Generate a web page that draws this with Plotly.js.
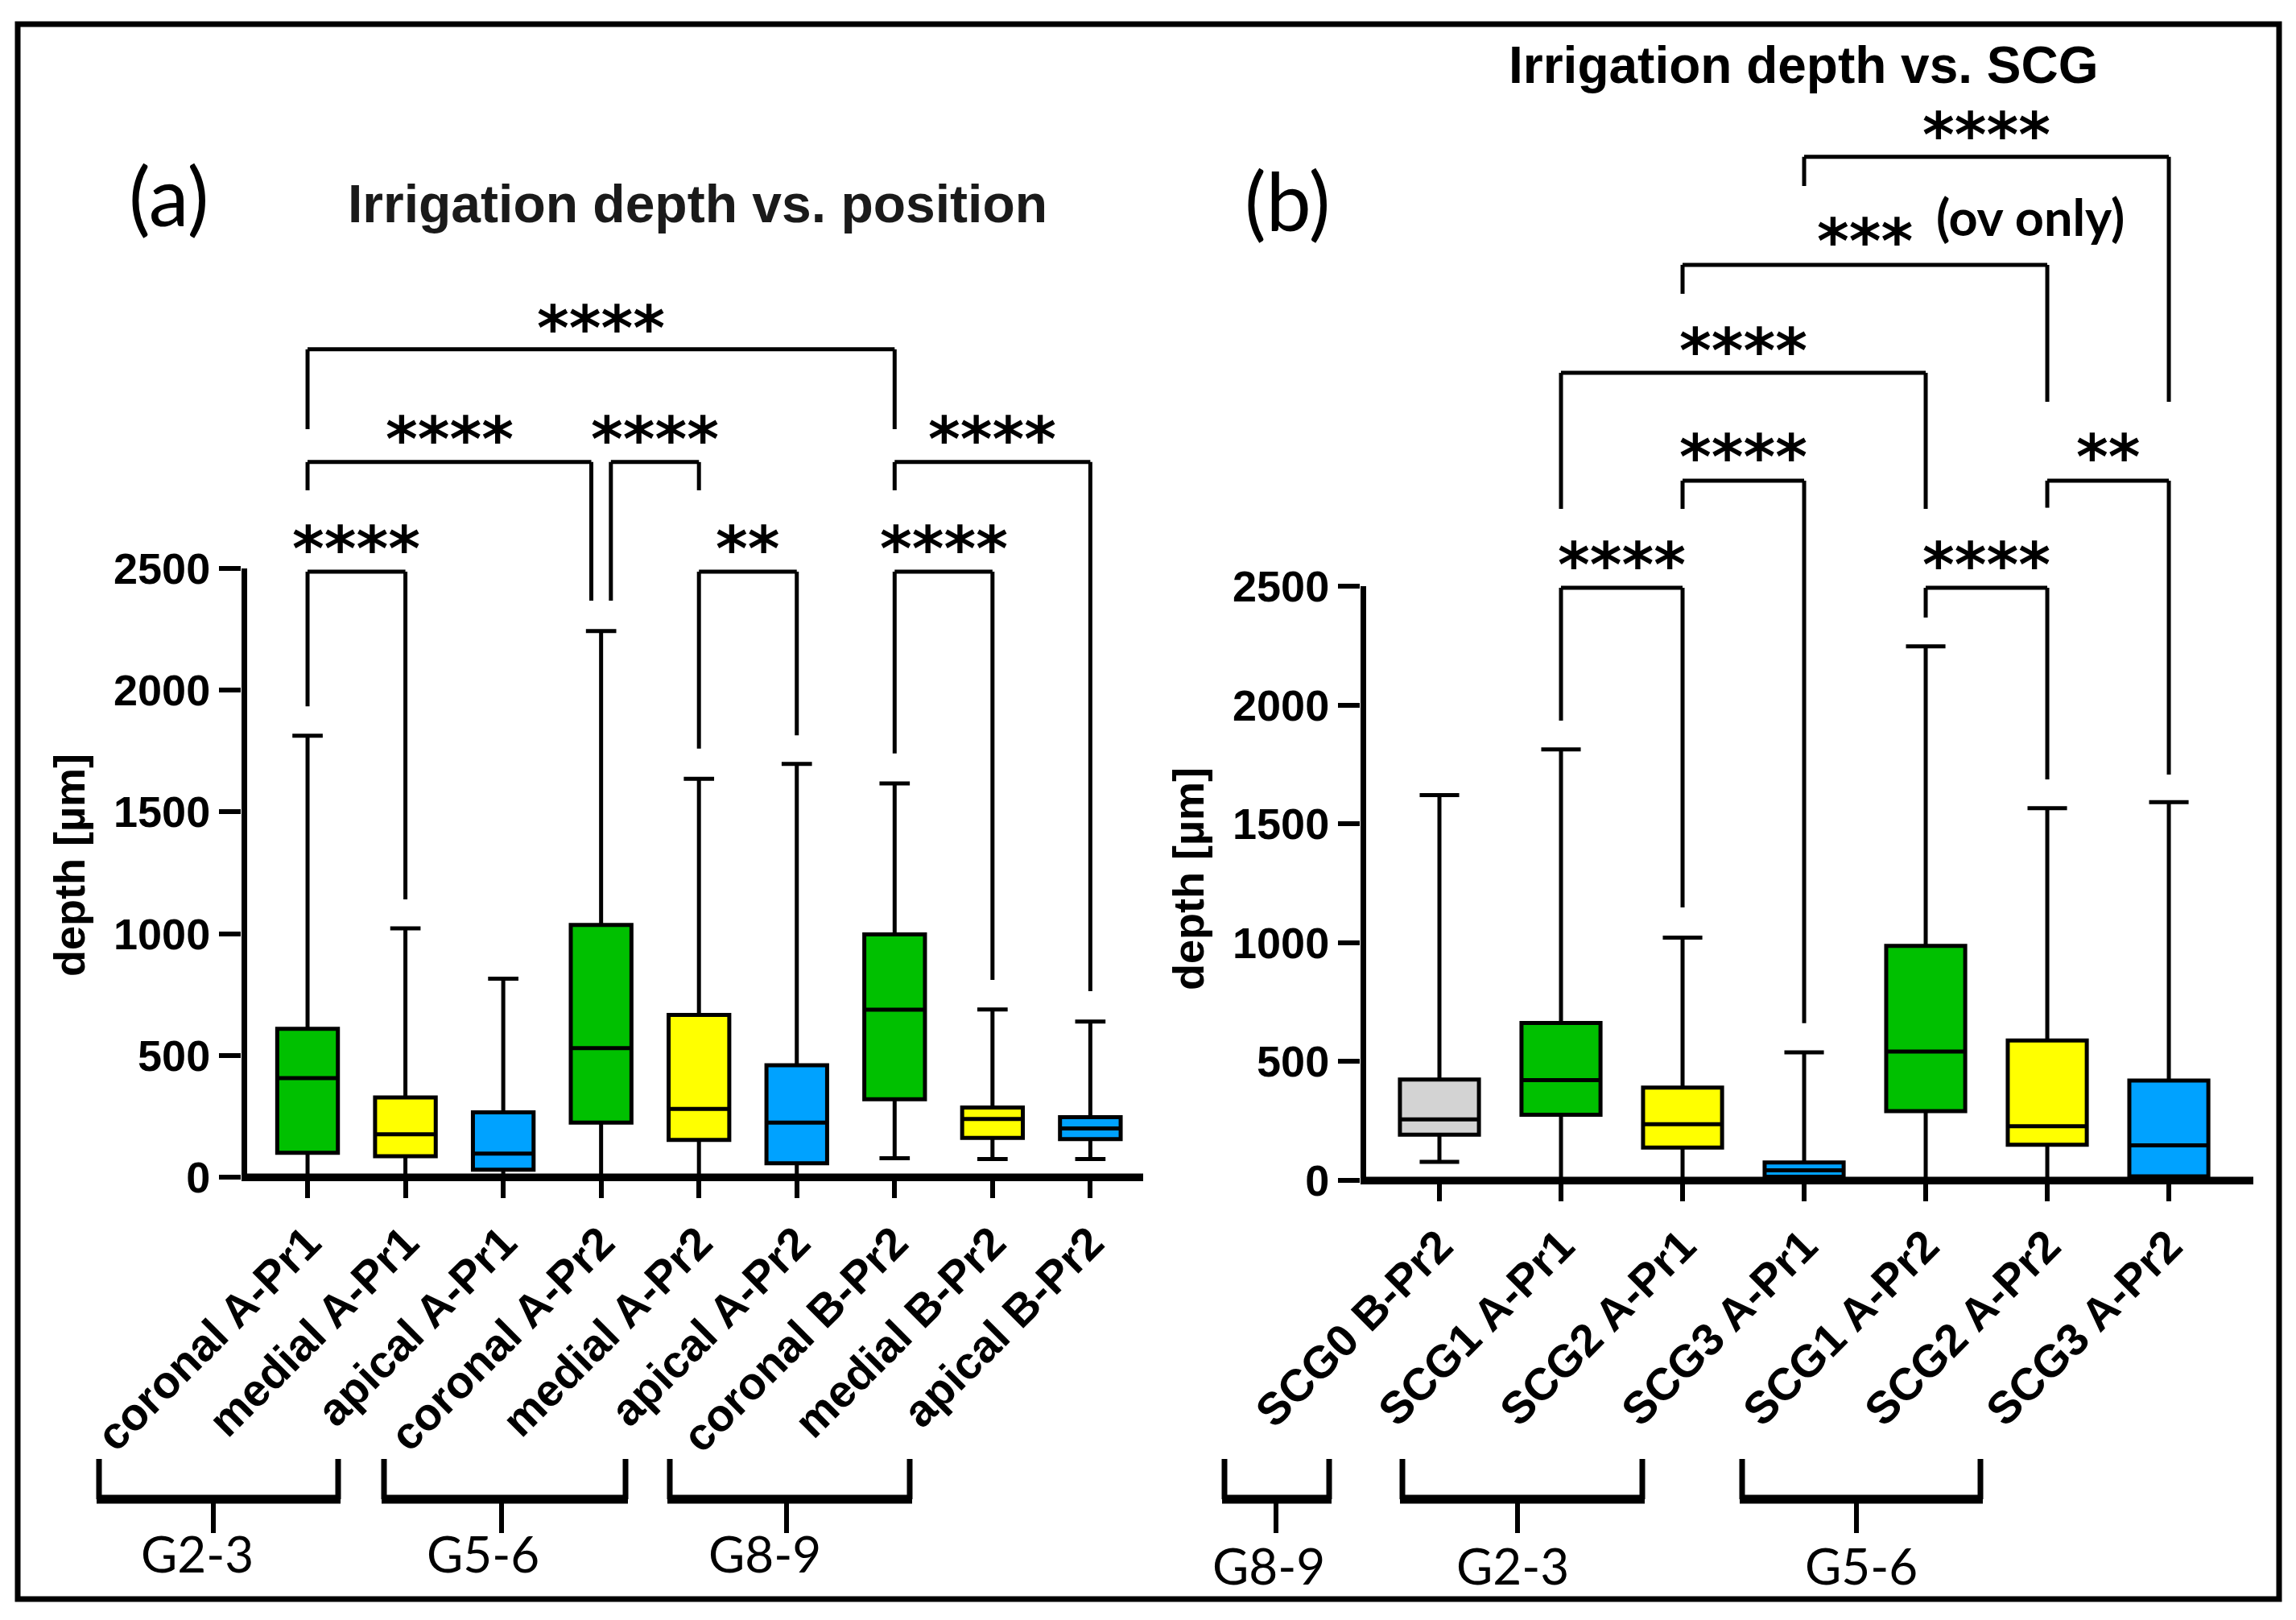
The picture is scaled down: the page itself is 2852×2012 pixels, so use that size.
<!DOCTYPE html>
<html><head><meta charset="utf-8">
<script src="https://cdn.plot.ly/plotly-3.0.1.min.js"></script>
<style>html,body{margin:0;padding:0;background:#fff}</style>
</head><body><div id="chart" style="width:2852px;height:2012px"></div>
<script>
// ---------- data: panel (a) irrigation depth vs. position ----------
const posLabels = ['coronal A-Pr1','medial A-Pr1','apical A-Pr1','coronal A-Pr2','medial A-Pr2','apical A-Pr2','coronal B-Pr2','medial B-Pr2','apical B-Pr2'];
const posMin = [0, 0, 0, 0, 0, 0, 78, 74, 74];
const posQ1  = [100, 86, 31, 224, 153, 57, 320, 161, 156];
const posMed = [407, 176, 97, 530, 280, 224, 688, 239, 200];
const posQ3  = [609, 327, 266, 1036, 666, 460, 997, 286, 246];
const posMax = [1813, 1022, 815, 2243, 1636, 1697, 1617, 689, 639];
const posColor = ['green','yellow','blue','green','yellow','blue','green','yellow','blue'];

// significance brackets (a): category index from/to, bar height, leg ends, label
const posBrFrom  = [0, 0, 3.1, 6, 0, 4, 6];
const posBrTo    = [6, 2.9, 4, 8, 1, 5, 7];
const posBrTop   = [3400, 2937, 2937, 2937, 2487, 2487, 2487];
const posBrLeft  = [3072, 2821, 2368, 2821, 1934, 1760, 1740];
const posBrRight = [3072, 2368, 2821, 764, 1141, 1815, 810];
const posBrText  = ['****','****','****','****','****','**','****'];
const posBrTextY = [3548, 3089, 3089, 3089, 2639, 2639, 2639];

// ---------- data: panel (b) irrigation depth vs. SCG ----------
const scgLabels = ['SCG0 B-Pr2','SCG1 A-Pr1','SCG2 A-Pr1','SCG3 A-Pr1','SCG1 A-Pr2','SCG2 A-Pr2','SCG3 A-Pr2'];
const scgMin = [78, 0, 0, 0, 0, 0, 0];
const scgQ1  = [192, 276, 138, 15, 291, 150, 17];
const scgMed = [257, 422, 236, 42, 542, 228, 147];
const scgQ3  = [424, 662, 390, 75, 987, 589, 420];
const scgMax = [1621, 1813, 1021, 539, 2247, 1566, 1591];
const scgColor = ['gray','green','yellow','blue','green','yellow','blue'];

const scgBrFrom  = [3, 2, 1, 2, 5, 1, 4];
const scgBrTo    = [6, 5, 4, 3, 6, 2, 5];
const scgBrTop   = [4306, 3852, 3398, 2944, 2944, 2493, 2493];
const scgBrLeft  = [4184, 3730, 2825, 2825, 2830, 1934, 2368];
const scgBrRight = [3276, 3276, 2825, 661, 1707, 1148, 1687];
const scgBrText  = ['****','***','****','****','**','****','****'];
const scgBrTextY = [4458, 4014, 3553, 3106, 3106, 2652, 2652];
const scgNote = '(ov only)';

const yTicks = [0, 500, 1000, 1500, 2000, 2500];
const groupNamesA = ['G2-3','G5-6','G8-9'];
const groupNamesB = ['G8-9','G2-3','G5-6'];

// ---------- style ----------
const W = 2852, H = 2012;
const colorMap = {green:'#00C000', yellow:'#FFFF00', blue:'#00A2FF', gray:'#D3D3D3'};
const ARIAL = 'Liberation Sans, Arial, sans-serif';
const CALI = 'Lato, Carlito, Calibri, sans-serif';
const STAR = 'DejaVu Sans, sans-serif';
const px = x => x / W;
const py = y => 1 - y / H;

const xRangeA = [-0.675, 8.54], yRangeA = [0, 3700];
const xRangeB = [-0.649, 6.695], yRangeB = [0, 4650];

const traces = [];
function addBoxes(labels, lo, q1, med, q3, hi, colors, xa, ya, width) {
  labels.forEach((lab, i) => {
    traces.push({
      type: 'box', x: [lab], q1: [q1[i]], median: [med[i]], q3: [q3[i]],
      lowerfence: [lo[i]], upperfence: [hi[i]],
      xaxis: xa, yaxis: ya, width: width, whiskerwidth: 0.5,
      fillcolor: colorMap[colors[i]], line: {color: '#000', width: 5},
      boxpoints: false, hoverinfo: 'skip', showlegend: false
    });
  });
}
addBoxes(posLabels, posMin, posQ1, posMed, posQ3, posMax, posColor, 'x', 'y', 0.62);
addBoxes(scgLabels, scgMin, scgQ1, scgMed, scgQ3, scgMax, scgColor, 'x2', 'y2', 0.65);

const shapes = [];
const annotations = [];
const LW = 5;
function addBrackets(from, to, top, left, right, text, textY, xr, yr) {
  for (let i = 0; i < from.length; i++) {
    shapes.push({type:'line', xref:xr, yref:yr, x0:from[i], x1:from[i], y0:left[i], y1:top[i], line:{color:'#000', width:LW}});
    shapes.push({type:'line', xref:xr, yref:yr, x0:from[i], x1:to[i], y0:top[i], y1:top[i], line:{color:'#000', width:LW}});
    shapes.push({type:'line', xref:xr, yref:yr, x0:to[i], x1:to[i], y0:top[i], y1:right[i], line:{color:'#000', width:LW}});
    annotations.push({xref:xr, yref:yr, x:(from[i]+to[i])/2, y:textY[i], text:text[i], showarrow:false,
      xanchor:'center', yanchor:'middle', yshift:-18, font:{family:STAR, size:76, weight:'bold', color:'#000'}});
  }
}
addBrackets(posBrFrom, posBrTo, posBrTop, posBrLeft, posBrRight, posBrText, posBrTextY, 'x', 'y');
addBrackets(scgBrFrom, scgBrTo, scgBrTop, scgBrLeft, scgBrRight, scgBrText, scgBrTextY, 'x2', 'y2');
annotations.push({xref:'x2', yref:'y2', x:4.07, y:scgBrTextY[1], text:scgNote, showarrow:false,
  xanchor:'left', yanchor:'middle', yshift:13, font:{family:CALI, size:63, weight:'bold', color:'#000'}});

// axis lines drawn over the baseline (covers whisker caps at 0) and y-axis lines from 0 to 2500
shapes.push({type:'line', xref:'x', yref:'y', x0:xRangeA[0], x1:xRangeA[1], y0:0, y1:0, line:{color:'#000', width:9}});
shapes.push({type:'line', xref:'x2', yref:'y2', x0:xRangeB[0], x1:xRangeB[1], y0:0, y1:0, line:{color:'#000', width:9}});
shapes.push({type:'line', xref:'x', yref:'y', x0:xRangeA[0]+0.029, x1:xRangeA[0]+0.029, y0:0, y1:2500, line:{color:'#000', width:7}});
shapes.push({type:'line', xref:'x2', yref:'y2', x0:xRangeB[0]+0.023, x1:xRangeB[0]+0.023, y0:0, y1:2500, line:{color:'#000', width:7}});

// group brackets under the labels
function groupBracket(x0, x1, stem, tx, ty, name) {
  const yl = 1812, yb = 1862, ys = 1904;
  shapes.push({type:'line', xref:'paper', yref:'paper', x0:px(x0), x1:px(x0), y0:py(yl), y1:py(yb), line:{color:'#000', width:7}});
  shapes.push({type:'line', xref:'paper', yref:'paper', x0:px(x1), x1:px(x1), y0:py(yl), y1:py(yb), line:{color:'#000', width:7}});
  shapes.push({type:'line', xref:'paper', yref:'paper', x0:px(x0-3), x1:px(x1+3), y0:py(yb), y1:py(yb), line:{color:'#000', width:11}});
  shapes.push({type:'line', xref:'paper', yref:'paper', x0:px(stem), x1:px(stem), y0:py(yb), y1:py(ys), line:{color:'#000', width:6}});
  annotations.push({xref:'paper', yref:'paper', x:px(tx), y:py(ty), text:name, showarrow:false,
    xanchor:'center', yanchor:'middle', font:{family:CALI, size:62, color:'#000'}});
}
groupBracket(123, 420, 265, 245, 1929, groupNamesA[0]);
groupBracket(477, 777, 623, 600, 1929, groupNamesA[1]);
groupBracket(832, 1130, 977, 950, 1929, groupNamesA[2]);
groupBracket(1521, 1651, 1585, 1576, 1944, groupNamesB[0]);
groupBracket(1742, 2040, 1885, 1879, 1944, groupNamesB[1]);
groupBracket(2164, 2460, 2306, 2312, 1944, groupNamesB[2]);

// frame
shapes.push({type:'rect', xref:'paper', yref:'paper', x0:px(22), x1:px(2831), y0:py(30), y1:py(1986), line:{color:'#000', width:7}, fillcolor:'rgba(0,0,0,0)'});

// titles & labels
annotations.push({xref:'paper', yref:'paper', x:px(209), y:py(242), text:'(a)', showarrow:false, xanchor:'center', yanchor:'middle', font:{family:CALI, size:100, color:'#000'}});
annotations.push({xref:'paper', yref:'paper', x:px(1599), y:py(248), text:'(b)', showarrow:false, xanchor:'center', yanchor:'middle', font:{family:CALI, size:100, color:'#000'}});
annotations.push({xref:'paper', yref:'paper', x:px(866), y:py(253), text:'Irrigation depth vs. position', showarrow:false, xanchor:'center', yanchor:'middle', font:{family:ARIAL, size:66, weight:'bold', color:'#1a1a1a'}});
annotations.push({xref:'paper', yref:'paper', x:px(2240), y:py(81), text:'Irrigation depth vs. SCG', showarrow:false, xanchor:'center', yanchor:'middle', font:{family:ARIAL, size:64, weight:'bold', color:'#000'}});
annotations.push({xref:'paper', yref:'paper', x:px(86), y:py(1075), text:'depth [µm]', textangle:-90, showarrow:false, xanchor:'center', yanchor:'middle', font:{family:ARIAL, size:54, weight:'bold', color:'#000'}});
annotations.push({xref:'paper', yref:'paper', x:px(1476), y:py(1092), text:'depth [µm]', textangle:-90, showarrow:false, xanchor:'center', yanchor:'middle', font:{family:ARIAL, size:54, weight:'bold', color:'#000'}});

const tickFont = {family:ARIAL, size:54, weight:'bold', color:'#000'};
function xAxis(domain, range, cats, anchor) {
  return {domain, range, anchor, type:'category', categoryorder:'array', categoryarray:cats,
    showline:true, linecolor:'#000', linewidth:5, ticks:'outside', ticklen:21, tickwidth:6, tickcolor:'#000',
    tickangle:-45, tickfont:Object.assign({}, tickFont, {size:56}), showgrid:false, zeroline:false, fixedrange:true};
}
function yAxis(domain, range, anchor) {
  return {domain, range, anchor, tickvals:yTicks, ticktext:yTicks.map(String), showline:false,
    ticks:'outside', ticklen:27, tickwidth:6, tickcolor:'#000', tickfont:tickFont,
    showgrid:false, zeroline:false, fixedrange:true};
}

const layout = {
  width: W, height: H, margin:{l:0, r:0, t:0, b:0},
  paper_bgcolor:'#fff', plot_bgcolor:'rgba(0,0,0,0)', showlegend:false,
  xaxis: xAxis([px(300), px(1420)], xRangeA, posLabels, 'y'),
  yaxis: yAxis([py(1462), py(1462 - yRangeA[1]*0.3024)], yRangeA, 'x'),
  xaxis2: xAxis([px(1690), px(2799)], xRangeB, scgLabels, 'y2'),
  yaxis2: yAxis([py(1466), py(1466 - yRangeB[1]*0.2952)], yRangeB, 'x2'),
  shapes, annotations
};
Plotly.newPlot('chart', traces, layout, {staticPlot:true, displayModeBar:false});
</script></body></html>
